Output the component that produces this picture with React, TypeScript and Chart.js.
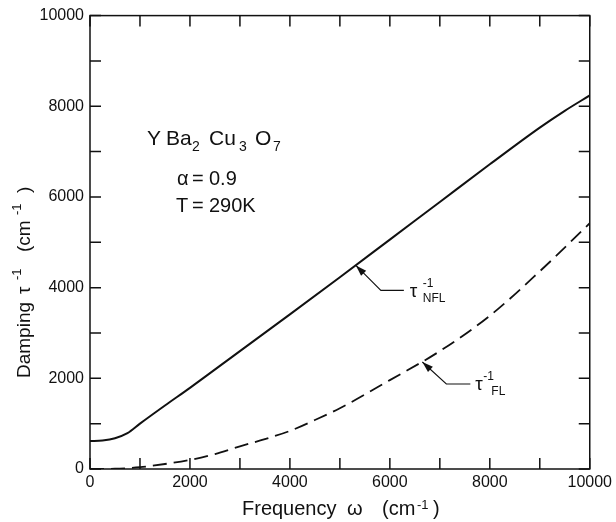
import React, { useEffect, useRef } from 'react';
import { Chart, registerables } from 'chart.js';

Chart.register(...registerables);

// ---- data ----
const freqNFL = [0, 250, 500, 750, 1000, 1500, 2000, 3000, 4000, 5000, 6000, 7000, 8000, 9000, 9500, 10000];
const dampNFL = [615, 630, 680, 790, 1000, 1400, 1790, 2600, 3410, 4230, 5060, 5890, 6720, 7530, 7900, 8240];
const freqFL = [0, 500, 1000, 1500, 2000, 2500, 3000, 3500, 4000, 4500, 5000, 6000, 7000, 8000, 9000, 10000];
const dampFL = [0, 5, 40, 110, 200, 330, 500, 660, 840, 1080, 1340, 1960, 2600, 3380, 4360, 5420];
const axisMin = 0;
const axisMax = 10000;
const labelStep = 2000;
const minorStep = 1000;
// arrow targets (data coordinates on the curves)
const nflArrowAt = { x: 5320, y: 4490 };
const flArrowAt = { x: 6650, y: 2360 };

const FONT = "'Liberation Sans', Arial, Helvetica, sans-serif";
const INK = '#111111';

type Seg = { t: string; x: number; y: number; size: number };

function drawSegs(ctx: CanvasRenderingContext2D, segs: Seg[]) {
  for (const s of segs) {
    ctx.font = `${s.size}px ${FONT}`;
    ctx.fillText(s.t, s.x, s.y);
  }
}

function arrow(ctx: CanvasRenderingContext2D, tipX: number, tipY: number, pts: [number, number][]) {
  ctx.beginPath();
  ctx.moveTo(tipX, tipY);
  for (const p of pts) ctx.lineTo(p[0], p[1]);
  ctx.stroke();
  const [fx, fy] = pts[0];
  const ang = Math.atan2(tipY - fy, tipX - fx);
  const L = 11, W = 3.6;
  ctx.beginPath();
  ctx.moveTo(tipX, tipY);
  ctx.lineTo(tipX - L * Math.cos(ang) + W * Math.sin(ang), tipY - L * Math.sin(ang) - W * Math.cos(ang));
  ctx.lineTo(tipX - L * Math.cos(ang) - W * Math.sin(ang), tipY - L * Math.sin(ang) + W * Math.cos(ang));
  ctx.closePath();
  ctx.fill();
}

const framePlugin = {
  id: 'frameAndText',
  afterDraw(chart: any) {
    const { ctx, chartArea: a, scales } = chart;
    const xs = scales.x;
    const ys = scales.y;
    ctx.save();
    ctx.strokeStyle = INK;
    ctx.fillStyle = INK;
    ctx.lineWidth = 1.5;
    ctx.strokeRect(a.left, a.top, a.right - a.left, a.bottom - a.top);
    const TL = 11;
    ctx.beginPath();
    for (let v = axisMin; v <= axisMax; v += minorStep) {
      const px = xs.getPixelForValue(v);
      ctx.moveTo(px, a.bottom); ctx.lineTo(px, a.bottom - TL);
      ctx.moveTo(px, a.top); ctx.lineTo(px, a.top + TL);
      const py = ys.getPixelForValue(v);
      ctx.moveTo(a.left, py); ctx.lineTo(a.left + TL, py);
      ctx.moveTo(a.right, py); ctx.lineTo(a.right - TL, py);
    }
    ctx.stroke();

    ctx.textBaseline = 'alphabetic';
    ctx.textAlign = 'left';

    // formula and parameters
    drawSegs(ctx, [
      { t: 'Y', x: 147, y: 145, size: 21 },
      { t: 'Ba', x: 166, y: 145, size: 21 },
      { t: '2', x: 192, y: 151, size: 14 },
      { t: 'Cu', x: 209, y: 145, size: 21 },
      { t: '3', x: 239, y: 151, size: 14 },
      { t: 'O', x: 255, y: 145, size: 21 },
      { t: '7', x: 273, y: 151, size: 14 },
      { t: 'α', x: 177, y: 185, size: 20 },
      { t: '=', x: 192, y: 185, size: 20 },
      { t: '0.9', x: 209, y: 185, size: 20 },
      { t: 'T', x: 176, y: 212, size: 20 },
      { t: '=', x: 192, y: 212, size: 20 },
      { t: '290K', x: 209, y: 212, size: 20 },
    ]);

    // curve labels with arrows
    ctx.lineWidth = 1.1;
    const nx = xs.getPixelForValue(nflArrowAt.x);
    const ny = ys.getPixelForValue(nflArrowAt.y);
    arrow(ctx, nx, ny, [[nx + 25, ny + 25], [nx + 48, ny + 25]]);
    const fx = xs.getPixelForValue(flArrowAt.x);
    const fy = ys.getPixelForValue(flArrowAt.y);
    arrow(ctx, fx, fy, [[fx + 24, fy + 22], [fx + 48, fy + 22]]);

    drawSegs(ctx, [
      { t: 'τ', x: nx + 54, y: ny + 32, size: 19 },
      { t: '-1', x: nx + 67, y: ny + 22, size: 12 },
      { t: 'NFL', x: nx + 67, y: ny + 37, size: 12 },
      { t: 'τ', x: fx + 53, y: fy + 28, size: 19 },
      { t: '-1', x: fx + 61, y: fy + 18, size: 12 },
      { t: 'FL', x: fx + 69, y: fy + 33, size: 12 },
    ]);

    // x axis title
    drawSegs(ctx, [
      { t: 'Frequency', x: 242, y: 515, size: 20 },
      { t: 'ω', x: 347, y: 515, size: 20 },
      { t: '(cm', x: 382, y: 515, size: 20 },
      { t: '-1', x: 417, y: 509, size: 13 },
      { t: ')', x: 433, y: 515, size: 20 },
    ]);

    // y axis title (rotated)
    ctx.translate(30, 378);
    ctx.rotate(-Math.PI / 2);
    drawSegs(ctx, [
      { t: 'Damping', x: 0, y: 0, size: 19 },
      { t: 'τ', x: 84, y: 0, size: 19 },
      { t: '-1', x: 98, y: -9, size: 13 },
      { t: '(cm', x: 126, y: 0, size: 19 },
      { t: '-1', x: 163, y: -9, size: 13 },
      { t: ')', x: 185, y: 0, size: 19 },
    ]);
    ctx.restore();
  },
};

export default function App() {
  const ref = useRef<HTMLCanvasElement | null>(null);

  useEffect(() => {
    document.body.style.margin = '0';
    const canvas = ref.current;
    if (!canvas) return;
    const nfl = freqNFL.map((f, i) => ({ x: f, y: dampNFL[i] }));
    const fl = freqFL.map((f, i) => ({ x: f, y: dampFL[i] }));
    const tickFont = { family: FONT, size: 16 };
    const plain = (v: any) => String(v);
    const chart = new Chart(canvas, {
      type: 'line',
      data: {
        datasets: [
          {
            label: 'τ⁻¹ NFL',
            data: nfl,
            borderColor: INK,
            borderWidth: 2,
            pointRadius: 0,
            cubicInterpolationMode: 'monotone',
            fill: false,
          },
          {
            label: 'τ⁻¹ FL',
            data: fl,
            borderColor: INK,
            borderWidth: 1.8,
            borderDash: [14, 7],
            pointRadius: 0,
            cubicInterpolationMode: 'monotone',
            fill: false,
          },
        ],
      },
      options: {
        responsive: false,
        animation: false,
        devicePixelRatio: 1,
        layout: { padding: { top: 11, right: 25, left: 0, bottom: 0 } },
        plugins: { legend: { display: false }, tooltip: { enabled: false } },
        scales: {
          x: {
            type: 'linear',
            min: axisMin,
            max: axisMax,
            grid: { display: false, drawTicks: false },
            border: { display: false },
            ticks: { stepSize: labelStep, color: INK, font: tickFont, padding: 4, maxRotation: 0, callback: plain },
            afterFit: (s: any) => { s.height = 53; },
          },
          y: {
            type: 'linear',
            min: axisMin,
            max: axisMax,
            grid: { display: false, drawTicks: false },
            border: { display: false },
            ticks: { stepSize: labelStep, color: INK, font: tickFont, padding: 6, callback: plain },
            afterFit: (s: any) => { s.width = 90; },
          },
        },
      },
      plugins: [framePlugin],
    } as any);
    return () => chart.destroy();
  }, []);

  return (
    <div style={{ width: 616, height: 522, background: '#fff' }}>
      <canvas ref={ref} width={616} height={522} style={{ display: 'block' }} />
    </div>
  );
}
